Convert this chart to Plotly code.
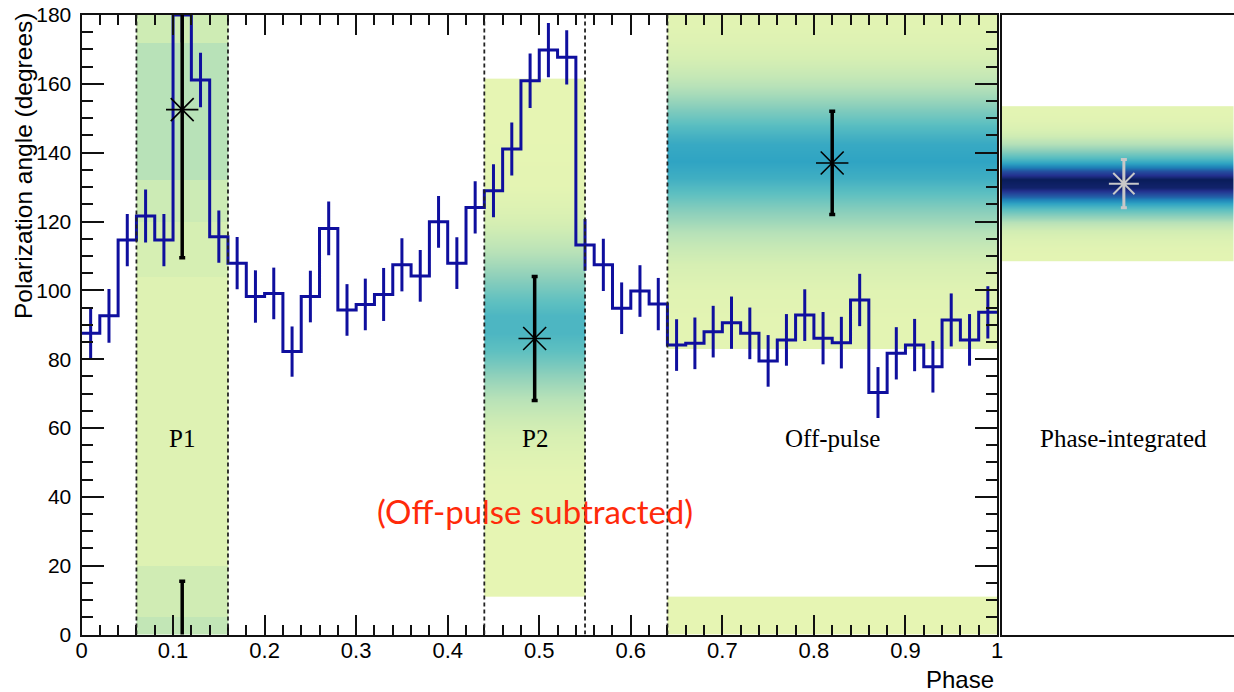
import plotly.graph_objects as go

# ---- phase-resolved polarization angle (50 bins over one rotation) ----
phase_edges = [i / 50 for i in range(51)]
angle_deg = [87.5, 92.6, 114.6, 121.6, 114.6, 180.0, 161.1, 115.6, 107.9, 98.2,
             99.1, 82.2, 98.2, 118.0, 94.3, 95.9, 98.8, 107.4, 104.2, 119.9,
             107.9, 124.1, 128.9, 141.1, 160.9, 169.8, 167.7, 113.2, 107.4, 94.8,
             99.8, 96.0, 84.1, 84.6, 88.0, 90.6, 87.5, 79.5, 85.6, 92.8,
             86.1, 84.8, 97.2, 70.3, 81.7, 84.1, 77.8, 91.4, 85.6, 93.6]
angle_err = [7.5, 7.8, 7.6, 7.7, 7.6, 8.0, 7.9, 7.6, 7.6, 7.6,
             7.5, 7.3, 7.5, 7.8, 7.5, 7.5, 7.7, 7.7, 7.5, 7.5,
             7.5, 7.6, 7.7, 7.7, 7.9, 7.9, 7.9, 7.5, 7.6, 7.5,
             7.5, 7.6, 7.5, 7.5, 7.5, 7.6, 7.5, 7.5, 7.5, 7.5,
             7.6, 7.5, 7.6, 7.4, 7.6, 7.6, 7.5, 7.7, 7.5, 7.6]

# ---- phase windows and their fitted angles ----
region_names = ["P1", "P2", "Off-pulse"]
region_lo = [0.06, 0.44, 0.64]
region_hi = [0.16, 0.55, 1.00]
region_angle = [152.5, 86.0, 137.0]
region_err = [43.0, 18.0, 15.0]

# probability maps (angle-bin edges and relative density per window)
p1_edges = [0, 5, 20, 104, 120, 132, 172, 180]
p1_density = [0.20, 0.13, 0.05, 0.10, 0.15, 0.25, 0.14]

p2_edges = [11, 45, 50, 55, 60, 65, 70, 75, 80, 85, 90, 95, 100, 105, 110,
            115, 120, 125, 130, 161.5]
p2_density = [0.0, 0.02, 0.05, 0.09, 0.15, 0.23, 0.33, 0.44, 0.54, 0.60,
              0.60, 0.53, 0.43, 0.32, 0.22, 0.13, 0.07, 0.03, 0.0]

off_edges = [83, 100, 105, 110, 115, 120, 125, 130, 135, 140, 145, 150,
             155, 160, 165, 170, 175, 180]
off_density = [0.02, 0.06, 0.10, 0.17, 0.27, 0.40, 0.53, 0.64, 0.70, 0.67,
               0.57, 0.44, 0.30, 0.18, 0.10, 0.05, 0.03]
off_low_edges = [0, 11]
off_low_density = [0.0]

# ---- phase-integrated result ----
int_angle = 131.0
int_err = 7.0
int_edges = [108.5, 111, 113.5, 116, 118.5, 121, 123.5, 126, 128.5, 131,
             133.5, 136, 138.5, 141, 143.5, 146, 148.5, 151, 153.5]
int_density = [0.02, 0.03, 0.06, 0.12, 0.25, 0.45, 0.65, 0.85, 0.98, 1.0,
               0.88, 0.68, 0.48, 0.28, 0.14, 0.07, 0.03, 0.02]

W, H = 1234, 692
X0, X1, YT, YB = 81.5, 997.0, 15.0, 634.5
PX0 = 1001.5

palette = [[0.0, "#e6f5b3"], [0.1, "#d6efb3"], [0.25, "#b8e2b8"],
           [0.4, "#8ed0bb"], [0.55, "#5cbfc1"], [0.7, "#2fa4c3"],
           [0.8, "#1f80b8"], [0.88, "#2451a0"], [0.94, "#23308e"],
           [1.0, "#0a1d5a"]]

BLUE = "#0f0f9e"
fig = go.Figure()


def band(x_lo, x_hi, edges, dens, smooth, xa="x", ya="y"):
    fig.add_trace(go.Heatmap(
        x=[x_lo, (x_lo + x_hi) / 2, x_hi], y=edges,
        z=[[d, d] for d in dens], zmin=0, zmax=1, colorscale=palette,
        showscale=False, zsmooth=smooth, hoverinfo="skip",
        xaxis=xa, yaxis=ya))


band(region_lo[0], region_hi[0], p1_edges, p1_density, False)
band(region_lo[1], region_hi[1], p2_edges, p2_density, "best")
band(region_lo[2], region_hi[2], off_edges, off_density, "best")
band(region_lo[2], region_hi[2], off_low_edges, off_low_density, False)
band(0, 0.95, int_edges, int_density, "best", "x2", "y2")

# window boundaries
for xv in sorted(set(region_lo + region_hi[:2])):
    fig.add_shape(type="line", x0=xv, x1=xv, y0=0, y1=180, xref="x", yref="y",
                  line=dict(color="#222222", width=1.8, dash="4px,3px"))

# step histogram with error bars
fig.add_trace(go.Scatter(
    x=phase_edges, y=angle_deg + [angle_deg[-1]], mode="lines",
    line=dict(color=BLUE, width=3, shape="hv"), hoverinfo="skip"))
centers = [(phase_edges[i] + phase_edges[i + 1]) / 2 for i in range(50)]
fig.add_trace(go.Scatter(
    x=centers, y=angle_deg, mode="markers", marker=dict(size=0.1, color=BLUE),
    error_y=dict(type="data", array=angle_err, color=BLUE, thickness=3, width=0),
    hoverinfo="skip"))

# fitted angle per window
centers_r = [(a + b) / 2 for a, b in zip(region_lo, region_hi)]
fig.add_trace(go.Scatter(
    x=centers_r, y=region_angle, mode="markers",
    marker=dict(symbol="asterisk-open", size=27, color="black",
                line=dict(color="black", width=1.6)),
    error_y=dict(type="data", array=region_err, color="black", thickness=3.5, width=3),
    hoverinfo="skip"))
# P1 error wraps through 180 -> 0
fig.add_trace(go.Scatter(
    x=[centers_r[0]], y=[region_angle[0] - 180], mode="markers",
    marker=dict(size=0.1, color="black"),
    error_y=dict(type="data", array=[region_err[0]], color="black", thickness=3.5, width=3),
    hoverinfo="skip"))

# phase-integrated angle
fig.add_trace(go.Scatter(
    x=[0.5], y=[int_angle], mode="markers", xaxis="x2", yaxis="y2",
    marker=dict(symbol="asterisk-open", size=25, color="#c8c8c8",
                line=dict(color="#c8c8c8", width=2)),
    error_y=dict(type="data", array=[int_err], color="#c8c8c8", thickness=3, width=3),
    hoverinfo="skip"))

label_y = 57
serif = dict(family="Liberation Serif", size=25, color="black")
for name, cx in zip(region_names, centers_r):
    fig.add_annotation(x=cx, y=label_y, xref="x", yref="y", text=name,
                       showarrow=False, font=serif)
fig.add_annotation(x=0.5, y=label_y, xref="x2", yref="y2", text="Phase-integrated",
                   showarrow=False, font=serif)
fig.add_annotation(x=0.495, y=36, xref="x", yref="y", text="(Off-pulse subtracted)",
                   showarrow=False, font=dict(family="Lato", size=33, color="#ff2a0a"))

sans = "Liberation Sans"
fig.add_annotation(x=24 / W, y=1 - 166 / H, xref="paper", yref="paper",
                   xanchor="center", yanchor="middle",
                   text="Polarization angle (degrees)", textangle=-90,
                   showarrow=False, font=dict(family=sans, size=24.5, color="black"))
fig.add_annotation(x=996 / W, y=1 - 679 / H, xref="paper", yref="paper",
                   text="Phase", xanchor="right", yanchor="middle", showarrow=False,
                   font=dict(family=sans, size=24, color="black"))

axis_common = dict(showgrid=False, zeroline=False, showline=True, linewidth=2,
                   linecolor="#111111", ticks="inside", tickcolor="#111111",
                   tickwidth=1.8, mirror="allticks", automargin=False)
panel_common = dict(showgrid=False, zeroline=False, showline=True, linewidth=2,
                    linecolor="#111111", showticklabels=False, ticks="",
                    automargin=False)
fig.update_layout(
    width=W, height=H, margin=dict(l=0, r=0, t=0, b=0, autoexpand=False),
    paper_bgcolor="white", plot_bgcolor="white", showlegend=False,
    xaxis=dict(domain=[X0 / W, X1 / W], range=[0, 1], tick0=0, dtick=0.1,
               ticklen=20, minor=dict(dtick=0.02, ticklen=10, tickwidth=1.5,
                                      ticks="inside", tickcolor="#111111"),
               tickfont=dict(family=sans, size=22, color="black"),
               ticklabelstandoff=-5, **axis_common),
    yaxis=dict(domain=[1 - YB / H, 1 - YT / H], range=[0, 180], tick0=0, dtick=20,
               ticklen=22, minor=dict(dtick=5, ticklen=11, tickwidth=1.5,
                                      ticks="inside", tickcolor="#111111"),
               tickfont=dict(family=sans, size=21, color="black"),
               ticklabelstandoff=4, **axis_common),
    xaxis2=dict(domain=[PX0 / W, 1.0], range=[0, 0.95], anchor="y2",
                mirror=True, **panel_common),
    yaxis2=dict(domain=[1 - YB / H, 1 - YT / H], range=[0, 180], anchor="x2",
                **panel_common),
)

fig.write_html("out.html")
